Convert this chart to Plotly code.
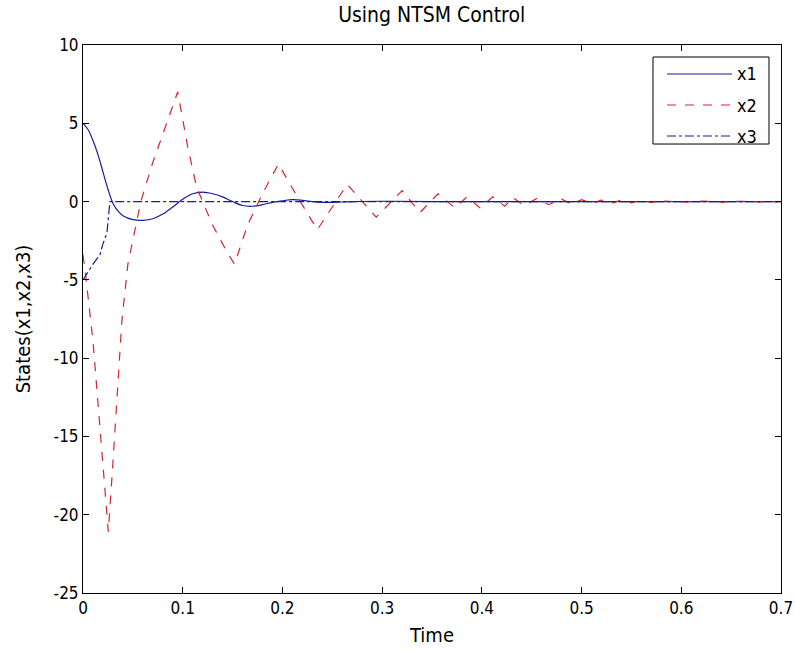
import plotly.graph_objects as go

# ---- data ----
t1 = [0, 0.005, 0.01, 0.015, 0.02, 0.025, 0.03, 0.035, 0.04, 0.05, 0.06, 0.07, 0.08,
      0.09, 0.1, 0.11, 0.12, 0.13, 0.14, 0.15, 0.16, 0.17, 0.18, 0.19, 0.2, 0.21,
      0.22, 0.23, 0.24, 0.25, 0.27, 0.3, 0.35, 0.7]
x1 = [5.0, 4.6, 3.9, 3.0, 1.9, 0.8, -0.1, -0.6, -0.9, -1.15, -1.2, -1.1, -0.8,
      -0.35, 0.15, 0.5, 0.6, 0.5, 0.3, 0.0, -0.25, -0.3, -0.2, -0.05, 0.05, 0.12,
      0.08, 0.0, -0.05, -0.05, 0.0, 0.02, 0.0, 0.0]

t2 = [0, 0.003, 0.01, 0.017, 0.023, 0.0254, 0.030, 0.034, 0.039, 0.045, 0.052, 0.058,
      0.07, 0.08, 0.09, 0.095, 0.105, 0.114, 0.13, 0.145, 0.152, 0.165, 0.18, 0.196,
      0.215, 0.235, 0.265, 0.294, 0.32, 0.338, 0.356, 0.373, 0.385, 0.398, 0.411,
      0.423, 0.431, 0.443, 0.455, 0.467, 0.48, 0.49, 0.5, 0.51, 0.52, 0.53, 0.54,
      0.55, 0.56, 0.57, 0.58, 0.6, 0.62, 0.64, 0.66, 0.68, 0.7]
x2 = [-3.4, -4.9, -8.9, -14.6, -18.9, -21.1, -16.7, -12.5, -7.6, -4.0, -1.85, 0.0,
      2.5, 4.3, 6.0, 7.0, 3.5, 0.9, -1.5, -3.3, -4.0, -1.5, 0.5, 2.4,
      0.3, -1.8, 1.1, -1.0, 0.7, -0.7, 0.5, -0.4, 0.3, -0.4, 0.3,
      -0.3, 0.25, -0.25, 0.2, -0.2, 0.15, -0.15, 0.12, -0.12, 0.1, -0.1, 0.1,
      -0.08, 0.08, -0.06, 0.05, -0.04, 0.03, -0.03, 0.02, -0.02, 0.0]

t3 = [0, 0.01, 0.017, 0.02, 0.024, 0.027, 0.04, 0.7]
x3 = [-5.0, -4.0, -3.4, -2.7, -2.0, 0.0, 0.0, 0.0]

series_names = ["x1", "x2", "x3"]
xticks = [0, 0.1, 0.2, 0.3, 0.4, 0.5, 0.6, 0.7]
yticks = [-25, -20, -15, -10, -5, 0, 5, 10]

FONT = "Liberation Sans Narrow, Arial Narrow, DejaVu Sans Condensed, Liberation Sans, Arial, sans-serif"
BLUE = "#1a1a9c"
RED = "#d4262e"

styles = [dict(color=BLUE, width=1.2, dash="solid"),
          dict(color=RED, width=1.2, dash="dash"),
          dict(color=BLUE, width=1.2, dash="dashdot")]

fig = go.Figure()
fig.add_trace(go.Scatter(x=t1, y=x1, name=series_names[0], mode="lines",
                         line=dict(**styles[0], shape="spline")))
fig.add_trace(go.Scatter(x=t2, y=x2, name=series_names[1], mode="lines",
                         line=styles[1]))
fig.add_trace(go.Scatter(x=t3, y=x3, name=series_names[2], mode="lines",
                         line=styles[2]))

# MATLAB-style legend box (drawn in paper coordinates)
leg_box = dict(x0=0.8166, x1=0.9828, y0=0.8193, y1=0.9781)
leg_line_x = (0.8367, 0.9298)
leg_text_x = 0.9340
leg_rows_y = [0.9471, 0.8905, 0.8339]

fig.add_shape(type="rect", xref="paper", yref="paper", **leg_box,
              line=dict(color="black", width=1), fillcolor="white", layer="above")
for name, st, ry in zip(series_names, styles, leg_rows_y):
    fig.add_shape(type="line", xref="paper", yref="paper",
                  x0=leg_line_x[0], x1=leg_line_x[1], y0=ry, y1=ry,
                  line=st, layer="above")
    fig.add_annotation(xref="paper", yref="paper", x=leg_text_x, y=ry, text=name,
                       showarrow=False, xanchor="left", yanchor="middle",
                       font=dict(family=FONT, size=18, color="black"))

axis_common = dict(showgrid=False, zeroline=False, showline=True, linecolor="black",
                   linewidth=1, mirror="ticks", ticks="inside", ticklen=6,
                   tickcolor="black", automargin=False,
                   tickfont=dict(family=FONT, size=17, color="black"))

fig.update_layout(
    width=795, height=651,
    margin=dict(l=83, r=14, t=45, b=58),
    paper_bgcolor="white", plot_bgcolor="white",
    font=dict(family=FONT, color="black"),
    title=dict(text="Using NTSM Control", x=0.543, xanchor="center", y=0.977,
               yanchor="middle", font=dict(family=FONT, size=21, color="black")),
    showlegend=False,
    xaxis=dict(range=[0, 0.7], tickvals=xticks, ticktext=[str(v) for v in xticks],
               title=dict(text="Time", font=dict(family=FONT, size=20), standoff=10),
               **axis_common),
    yaxis=dict(range=[-25, 10], tickvals=yticks, ticktext=[str(v) for v in yticks],
               title=dict(text="States(x1,x2,x3)", font=dict(family=FONT, size=20), standoff=17),
               **axis_common),
)

fig.write_html("out.html")
